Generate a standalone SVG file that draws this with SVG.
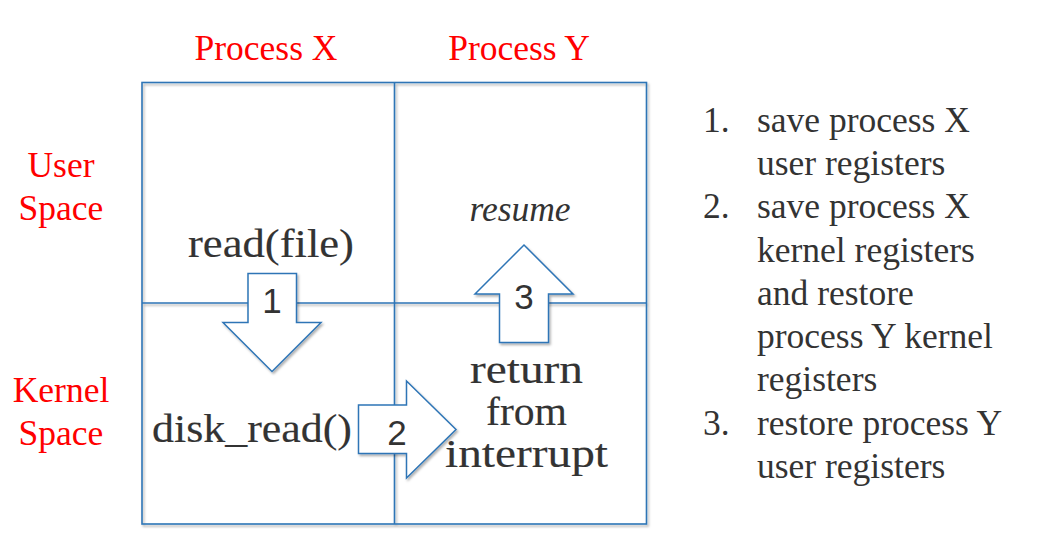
<svg xmlns="http://www.w3.org/2000/svg" width="1041" height="549" viewBox="0 0 1041 549">
<defs>
<filter id="sh" x="-10%" y="-10%" width="130%" height="130%">
<feDropShadow dx="1.5" dy="2" stdDeviation="1.2" flood-color="#000" flood-opacity="0.3"/>
</filter>
<style>
.grid{fill:none;stroke:#2E75B6;stroke-width:1.6}
.arrow{fill:#fff;stroke:#2E75B6;stroke-width:1.5;stroke-linejoin:miter}
.red{font-family:"Liberation Serif","Times New Roman",serif;font-size:35.5px;fill:#FF0000;text-anchor:middle}
.code{font-family:"Liberation Serif","Times New Roman",serif;font-size:39px;fill:#333;stroke:#333;stroke-width:0.15;text-anchor:middle}
.num{font-family:"Liberation Sans",Arial,sans-serif;font-size:35px;fill:#333;text-anchor:middle}
.list{font-family:"Liberation Serif","Times New Roman",serif;font-size:35.5px;fill:#333}
.it{font-family:"Liberation Serif","Times New Roman",serif;font-size:35.5px;font-style:italic;fill:#333;text-anchor:middle}
</style>
</defs>
<rect width="1041" height="549" fill="#fff"/>
<g id="headers">
<text class="red" x="266" y="60">Process X</text>
<text class="red" x="519" y="60">Process Y</text>
<text class="red" x="61" y="177">User</text>
<text class="red" x="61" y="220">Space</text>
<text class="red" x="61" y="402">Kernel</text>
<text class="red" x="61" y="445">Space</text>
</g>
<g id="grid" filter="url(#sh)">
<rect class="grid" x="142" y="82.5" width="504.5" height="441.5"/>
<line class="grid" x1="394.5" y1="82.5" x2="394.5" y2="524"/>
<line class="grid" x1="142" y1="303" x2="646.5" y2="303"/>
</g>
<g id="cells">
<text class="code" x="271" y="257" textLength="166" lengthAdjust="spacingAndGlyphs">read(file)</text>
<text class="code" x="252" y="442" textLength="200" lengthAdjust="spacingAndGlyphs">disk_read()</text>
<text class="it" x="520" y="221">resume</text>
<text class="code" x="526.5" y="383" textLength="113" lengthAdjust="spacingAndGlyphs">return</text>
<text class="code" x="526.5" y="425" textLength="81" lengthAdjust="spacingAndGlyphs">from</text>
<text class="code" x="526.5" y="467" textLength="163" lengthAdjust="spacingAndGlyphs">interrupt</text>
</g>
<g id="connectors">
<g id="arrow1">
<polygon class="arrow" filter="url(#sh)" points="248,273.5 296.5,273.5 296.5,322.5 321,322.5 272,371.5 223,322.5 248,322.5"/>
<text class="num" x="272" y="313">1</text>
</g>
<g id="arrow2">
<polygon class="arrow" filter="url(#sh)" points="358.5,405 406.5,405 406.5,381 456,429.5 406.5,478 406.5,453.5 358.5,453.5"/>
<text class="num" x="397" y="445">2</text>
</g>
<g id="arrow3">
<polygon class="arrow" filter="url(#sh)" points="499.5,342.5 548.5,342.5 548.5,294 573,294 524,245 475,294 499.5,294"/>
<text class="num" x="524" y="309">3</text>
</g>
</g>
<g id="legend">
<text class="list" x="703" y="132">1.</text>
<text class="list" x="757" y="132">save process X</text>
<text class="list" x="757" y="175">user registers</text>
<text class="list" x="703" y="218">2.</text>
<text class="list" x="757" y="218">save process X</text>
<text class="list" x="757" y="262">kernel registers</text>
<text class="list" x="757" y="305">and restore</text>
<text class="list" x="757" y="348">process Y kernel</text>
<text class="list" x="757" y="391">registers</text>
<text class="list" x="703" y="435">3.</text>
<text class="list" x="757" y="435">restore process Y</text>
<text class="list" x="757" y="478">user registers</text>
</g>
</svg>
